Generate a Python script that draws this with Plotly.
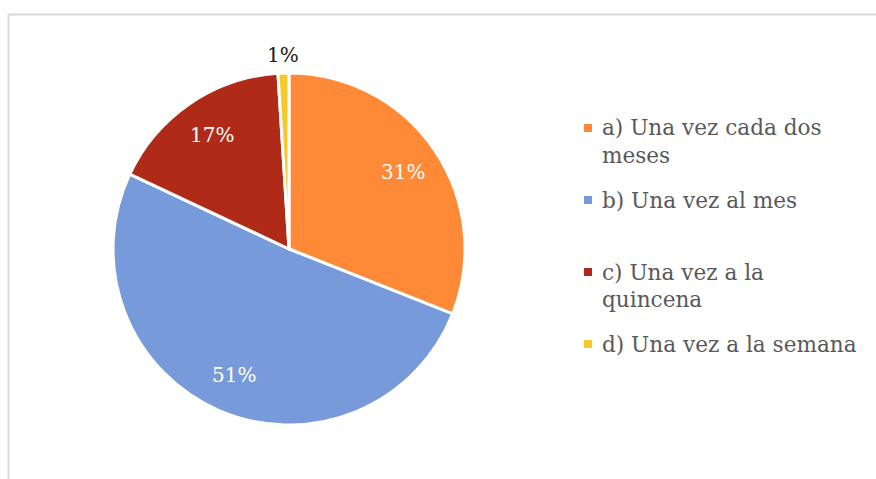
import math
import textwrap
import plotly.graph_objects as go

# Frequency categories and their share of responses (%)
categories = [
    "a) Una vez cada dos meses",
    "b) Una vez al mes",
    "c) Una vez a la quincena",
    "d) Una vez a la semana",
]
shares = [31, 51, 17, 1]
slice_colors = ["#FE8A38", "#779BDA", "#B02B17", "#F5C92A"]

W, H = 876, 479
FONT = "DejaVu Serif"

# pie placement in pixels
cx, cy, R = 289, 249, 176

fig = go.Figure(
    go.Pie(
        labels=categories,
        values=shares,
        sort=False,
        direction="clockwise",
        rotation=0,
        marker=dict(colors=slice_colors, line=dict(color="white", width=3)),
        textinfo="none",
        hoverinfo="label+percent",
        showlegend=False,
        domain=dict(
            x=[(cx - R) / W, (cx + R) / W],
            y=[1 - (cy + R) / H, 1 - (cy - R) / H],
        ),
    )
)

annotations = []
shapes = []

# percentage labels at the middle angle of each slice
total = sum(shares)
cum = 0
for v in shares:
    mid = (cum + v / 2) / total * 2 * math.pi
    cum += v
    frac = v / total
    if frac < 0.05:
        r, color = 1.10 * R, "#1a1a1a"
    else:
        r, color = 0.78 * R, "white"
    px = cx + r * math.sin(mid)
    py = cy - r * math.cos(mid)
    annotations.append(dict(
        x=px / W, y=1 - py / H, xref="paper", yref="paper",
        text=f"{round(frac * 100)}%", showarrow=False,
        font=dict(family=FONT, size=20, color=color),
        xanchor="center", yanchor="middle",
    ))

# legend: square marker plus wrapped label text
leg_x, leg_top, slot, line_h = 600, 128, 72, 27
for i, (name, col) in enumerate(zip(categories, slice_colors)):
    y0 = leg_top + i * slot
    shapes.append(dict(
        type="rect", xref="paper", yref="paper",
        x0=584 / W, x1=592 / W, y0=1 - (y0 + 4) / H, y1=1 - (y0 - 4) / H,
        fillcolor=col, line=dict(width=0),
    ))
    for j, line in enumerate(textwrap.wrap(name, width=22)):
        annotations.append(dict(
            x=leg_x / W, y=1 - (y0 + j * line_h) / H,
            xref="paper", yref="paper", text=line, showarrow=False,
            font=dict(family=FONT, size=21.6, color="#595959"),
            xanchor="left", yanchor="middle",
        ))

# chart area frame
shapes.append(dict(type="line", xref="paper", yref="paper",
                   x0=8.5 / W, x1=1, y0=1 - 14.5 / H, y1=1 - 14.5 / H,
                   line=dict(color="#D9D9D9", width=2)))
shapes.append(dict(type="line", xref="paper", yref="paper",
                   x0=8.5 / W, x1=8.5 / W, y0=0, y1=1 - 14.5 / H,
                   line=dict(color="#D9D9D9", width=2)))

fig.update_layout(
    width=W, height=H,
    margin=dict(l=0, r=0, t=0, b=0),
    paper_bgcolor="white",
    plot_bgcolor="white",
    annotations=annotations,
    shapes=shapes,
)

fig.write_html("out.html")
